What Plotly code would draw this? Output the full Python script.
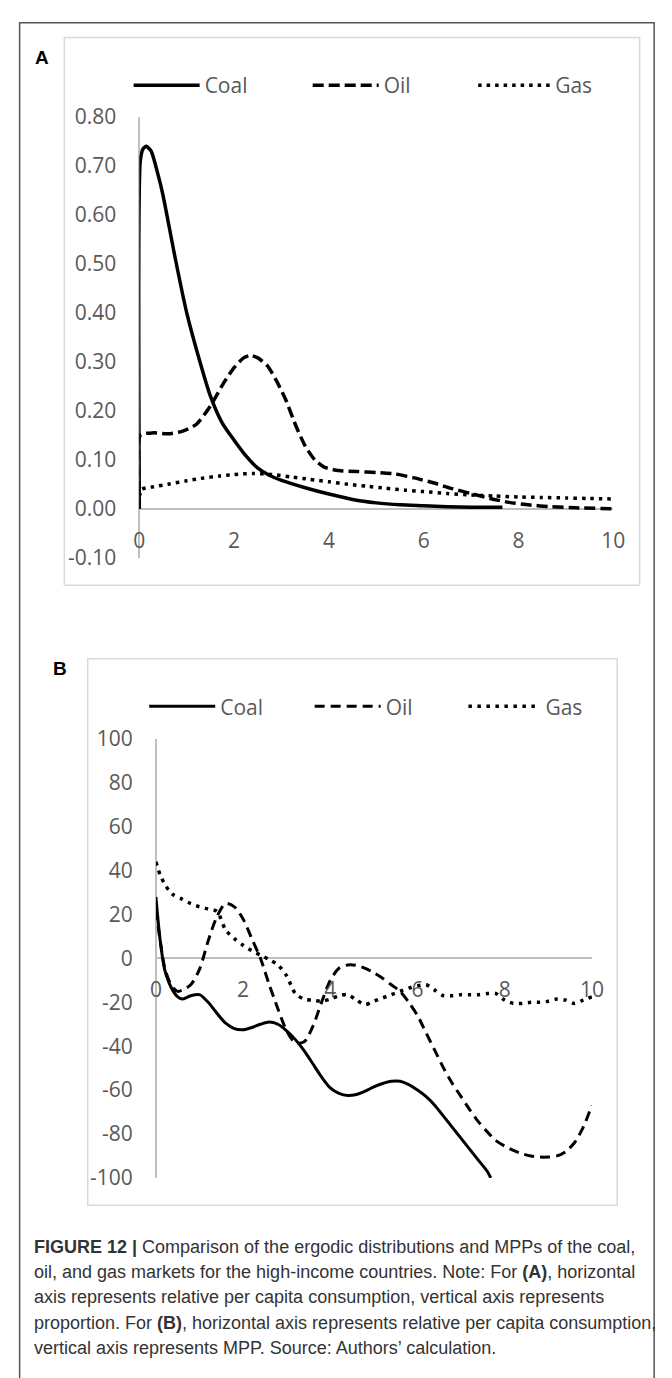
import plotly.graph_objects as go

W, H = 672, 1378

# ---------------- Panel A data (ergodic distributions) ----------------
coal_a_x = [0, 0.02, 0.08, 0.15, 0.25, 0.4, 0.5, 0.75, 1.0, 1.25, 1.5, 1.75, 2.0, 2.25, 2.5,
            2.75, 3.0, 3.5, 4.0, 4.5, 5.0, 5.5, 6.0, 6.5, 7.0, 7.66]
coal_a_y = [0, 0.71, 0.735, 0.74, 0.73, 0.68, 0.64, 0.515, 0.40, 0.31, 0.23, 0.175, 0.14, 0.108,
            0.083, 0.068, 0.058, 0.043, 0.03, 0.019, 0.012, 0.008, 0.006, 0.004, 0.003, 0.003]

oil_a_x = [0, 0.02, 0.3, 0.6, 0.9, 1.2, 1.5, 1.8, 2.0, 2.2, 2.35, 2.5, 2.7, 2.9, 3.1, 3.3, 3.5,
           3.7, 3.9, 4.2, 4.6, 5.0, 5.4, 5.8, 6.2, 6.6, 7.0, 7.4, 7.8, 8.2, 8.7, 9.2, 10.0]
oil_a_y = [0, 0.15, 0.155, 0.153, 0.158, 0.172, 0.21, 0.26, 0.288, 0.308, 0.313, 0.308, 0.292,
           0.26, 0.22, 0.17, 0.128, 0.1, 0.085, 0.078, 0.076, 0.074, 0.071, 0.063, 0.053, 0.041,
           0.031, 0.021, 0.013, 0.008, 0.004, 0.002, 0.0]

gas_a_x = [0, 0.05, 0.3, 0.6, 1.0, 1.3, 1.7, 2.0, 2.4, 2.8, 3.2, 3.6, 4.0, 4.4, 4.8, 5.2, 5.6,
           6.0, 6.5, 7.0, 7.5, 8.0, 8.5, 9.0, 9.5, 10.0]
gas_a_y = [0.025, 0.04, 0.045, 0.05, 0.057, 0.062, 0.067, 0.07, 0.072, 0.07, 0.065, 0.06, 0.055,
           0.05, 0.046, 0.042, 0.038, 0.035, 0.031, 0.028, 0.026, 0.024, 0.023, 0.022, 0.021, 0.02]

a_ytick_vals = [-0.10, 0.00, 0.10, 0.20, 0.30, 0.40, 0.50, 0.60, 0.70, 0.80]
a_ytick_text = ["-0.10", "0.00", "0.10", "0.20", "0.30", "0.40", "0.50", "0.60", "0.70", "0.80"]
a_xtick_vals = [0, 2, 4, 6, 8, 10]
a_xtick_text = ["0", "2", "4", "6", "8", "10"]

# ---------------- Panel B data (MPPs) ----------------
coal_b_x = [0, 0.1, 0.2, 0.3, 0.4, 0.5, 0.6, 0.8, 1.0, 1.2, 1.4, 1.6, 1.8, 2.0, 2.2, 2.4, 2.6,
            2.8, 3.0, 3.2, 3.4, 3.6, 3.8, 4.0, 4.2, 4.4, 4.6, 4.8, 5.0, 5.2, 5.4, 5.6, 5.8, 6.0,
            6.2, 6.4, 6.6, 6.8, 7.0, 7.2, 7.4, 7.6, 7.68]
coal_b_y = [28, 8, -5, -11, -15, -17.5, -18.5, -17, -16.5, -20, -25, -29.5, -32, -32.5, -31.5,
            -30, -29, -30, -33, -37, -42, -48, -54, -59, -61.5, -62.5, -62, -60.5, -58.5, -57,
            -56, -56, -57.5, -60, -63, -67, -72, -77, -82, -87, -92, -97, -100]

oil_b_x = [0, 0.1, 0.2, 0.3, 0.4, 0.5, 0.6, 0.8, 1.0, 1.2, 1.4, 1.6, 1.8, 2.0, 2.2, 2.4, 2.6,
           2.8, 3.0, 3.2, 3.4, 3.6, 3.8, 4.0, 4.2, 4.4, 4.6, 4.8, 5.0, 5.2, 5.4, 5.6, 5.8, 6.0,
           6.2, 6.4, 6.6, 6.8, 7.0, 7.2, 7.4, 7.6, 7.8, 8.0, 8.2, 8.4, 8.6, 8.8, 9.0, 9.2, 9.4,
           9.6, 9.8, 10.0]
oil_b_y = [22, 8, -4, -10, -13.5, -15, -14.5, -12, -5, 8, 19, 25, 23.5, 18, 9, 0, -12, -23,
           -33, -38.5, -38, -31, -20, -10, -4.5, -3, -3.2, -4.5, -6.5, -9, -12, -15, -20, -26,
           -34, -42, -50, -57, -63, -69, -74.5, -79, -83, -85.5, -87.5, -89, -90, -90.5, -90.5,
           -90, -88, -84, -77, -67]

gas_b_x = [0, 0.1, 0.2, 0.3, 0.4, 0.6, 0.8, 1.0, 1.2, 1.4, 1.6, 1.8, 2.0, 2.2, 2.4, 2.6, 2.8,
           3.0, 3.2, 3.4, 3.6, 3.8, 4.0, 4.2, 4.4, 4.6, 4.8, 5.0, 5.2, 5.4, 5.6, 5.8, 6.0, 6.2,
           6.4, 6.6, 6.8, 7.0, 7.2, 7.4, 7.6, 7.8, 8.0, 8.2, 8.4, 8.6, 8.8, 9.0, 9.2, 9.4, 9.6,
           9.8, 10.0]
gas_b_y = [44, 38, 34, 31, 29, 27, 25, 23.5, 22.5, 21.5, 13, 9, 6, 3.5, 1.5, -0.5, -3, -8, -16,
           -18.5, -19, -19.5, -18.5, -17, -16.5, -19, -21, -19.5, -18, -16.5, -15, -13.5, -12.5,
           -12, -14.5, -17, -17, -16.5, -16.5, -16.5, -16, -16, -19, -20.5, -20.5, -20, -20,
           -19.5, -18.5, -19, -20.5, -19, -17.5]

b_ytick_vals = [-100, -80, -60, -40, -20, 0, 20, 40, 60, 80, 100]
b_ytick_text = ["-100", "-80", "-60", "-40", "-20", "0", "20", "40", "60", "80", "100"]
b_xtick_vals = [0, 2, 4, 6, 8, 10]
b_xtick_text = ["0", "2", "4", "6", "8", "10"]

series_names = ["Coal", "Oil", "Gas"]

caption_lines = [
    "<b>FIGURE 12 |</b> Comparison of the ergodic distributions and MPPs of the coal,",
    "oil, and gas markets for the high-income countries. Note: For <b>(A)</b>, horizontal",
    "axis represents relative per capita consumption, vertical axis represents",
    "proportion. For <b>(B)</b>, horizontal axis represents relative per capita consumption,",
    "vertical axis represents MPP. Source: Authors\u2019 calculation.",
]


def px(x):
    return x / W


def py(y):
    return 1 - y / H


TICK_FONT = dict(family="Open Sans, Lato, sans-serif", size=21, color="#595959")
AXIS_GREY = "#bfbfbf"

fig = go.Figure()

styles_a = [
    dict(color="black", width=3.5, dash="solid"),
    dict(color="black", width=3.5, dash="11px,5px"),
    dict(color="black", width=3.5, dash="3.5px,5px"),
]
styles_b = [
    dict(color="black", width=3, dash="solid"),
    dict(color="black", width=3, dash="10px,6px"),
    dict(color="black", width=3.5, dash="3.5px,5.5px"),
]

legend_ids_a = ["legend", "legend2", "legend3"]
legend_ids_b = ["legend4", "legend5", "legend6"]

for name, xs, ys, st, lg in zip(series_names, [coal_a_x, oil_a_x, gas_a_x],
                                [coal_a_y, oil_a_y, gas_a_y], styles_a, legend_ids_a):
    fig.add_trace(go.Scatter(x=xs, y=ys, mode="lines", name=name,
                             line=dict(**st, shape="spline", smoothing=0.6),
                             xaxis="x", yaxis="y", legend=lg))

for name, xs, ys, st, lg in zip(series_names, [coal_b_x, oil_b_x, gas_b_x],
                                [coal_b_y, oil_b_y, gas_b_y], styles_b, legend_ids_b):
    fig.add_trace(go.Scatter(x=xs, y=ys, mode="lines", name=name,
                             line=dict(**st, shape="spline", smoothing=0.8),
                             xaxis="x2", yaxis="y2", legend=lg))

common_x = dict(showgrid=False, showline=False, ticks="", zeroline=True, zerolinecolor=AXIS_GREY,
                zerolinewidth=1.5, tickfont=TICK_FONT, fixedrange=True)
common_y = dict(showgrid=False, showline=False, ticks="", zeroline=True, zerolinecolor=AXIS_GREY,
                zerolinewidth=1.5, tickfont=TICK_FONT, fixedrange=True, ticklabelstandoff=22)


def leg(xpx, ypx, iw=66):
    return dict(orientation="h", x=px(xpx), y=py(ypx), xanchor="left", yanchor="middle",
                font=TICK_FONT, itemwidth=iw, bgcolor="rgba(0,0,0,0)", borderwidth=0)


fig.update_layout(
    width=W, height=H,
    margin=dict(l=0, r=0, t=0, b=0),
    paper_bgcolor="white", plot_bgcolor="rgba(0,0,0,0)",
    showlegend=True,
    xaxis=dict(**common_x, domain=[px(137), px(624)], range=[0, 10], anchor="free",
               position=py(522), tickvals=a_xtick_vals, ticktext=a_xtick_text),
    yaxis=dict(**common_y, domain=[py(554), py(104)], range=[-0.10, 0.80], anchor="x",
               tickvals=a_ytick_vals, ticktext=a_ytick_text),
    xaxis2=dict(**common_x, domain=[px(154), px(602)], range=[0, 10], anchor="free",
                position=py(980), tickvals=b_xtick_vals, ticktext=b_xtick_text),
    yaxis2=dict(**common_y, domain=[py(1187), py(739)], range=[-100, 100], anchor="x2",
                tickvals=b_ytick_vals, ticktext=b_ytick_text),
    legend=leg(126, 72), legend2=leg(310, 72), legend3=leg(480, 72, 72),
    legend4=leg(142, 706), legend5=leg(312, 706), legend6=leg(470, 706, 72),
)

shapes = [
    dict(type="rect", xref="paper", yref="paper", x0=px(14), x1=px(666), y0=py(8), y1=py(1420),
         line=dict(color="#555555", width=1.5)),
    dict(type="rect", xref="paper", yref="paper", x0=px(60), x1=px(651), y0=py(23), y1=py(582),
         line=dict(color="#d9d9d9", width=1.5)),
    dict(type="rect", xref="paper", yref="paper", x0=px(84), x1=px(628), y0=py(657), y1=py(1215),
         line=dict(color="#d9d9d9", width=1.5)),
]
fig.update_layout(shapes=shapes)

ann = [
    dict(text="<b>A</b>", x=px(37), y=py(43), xref="paper", yref="paper", showarrow=False,
         xanchor="center", yanchor="middle",
         font=dict(family="Liberation Sans, Arial, sans-serif", size=19, color="black")),
    dict(text="<b>B</b>", x=px(55), y=py(667), xref="paper", yref="paper", showarrow=False,
         xanchor="center", yanchor="middle",
         font=dict(family="Liberation Sans, Arial, sans-serif", size=19, color="black")),
]
cap_y = [1258, 1283, 1309, 1335, 1361]
for t, yy in zip(caption_lines, cap_y):
    ann.append(dict(text=t, x=px(27), y=py(yy), xref="paper", yref="paper", showarrow=False,
                    xanchor="left", yanchor="middle",
                    font=dict(family="Liberation Sans, Arial, sans-serif",
                              size=18, color="#333333")))
fig.update_layout(annotations=ann)

fig.write_html(
    "out.html",
    config={"displayModeBar": False},
    post_script="document.body.style.margin='0px';document.documentElement.style.overflow='hidden';",
)
